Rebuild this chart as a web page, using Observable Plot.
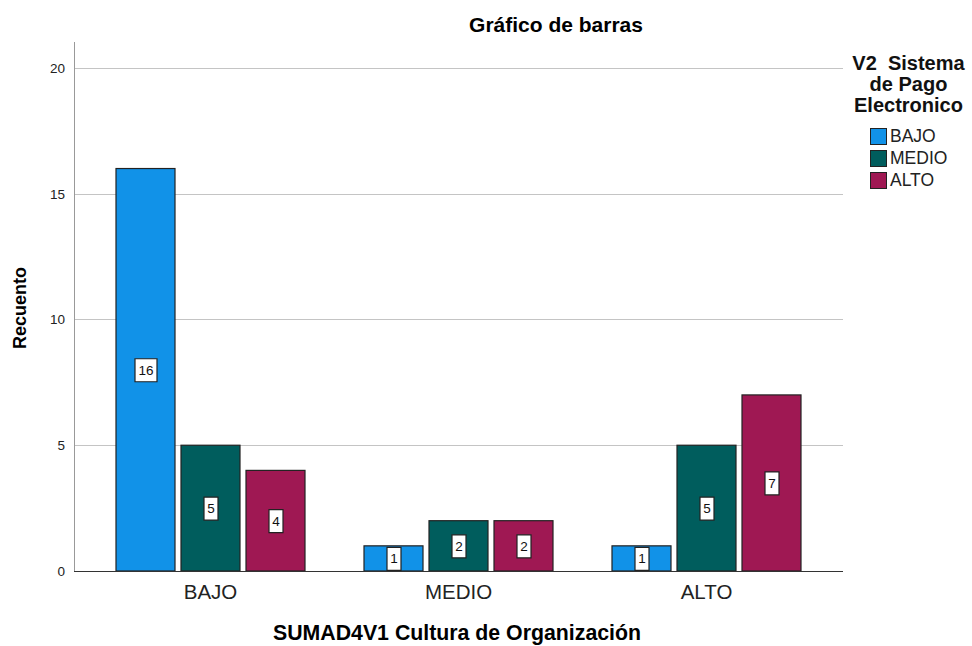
<!DOCTYPE html>
<html><head><meta charset="utf-8">
<script src="https://cdn.jsdelivr.net/npm/d3@7"></script>
<script src="https://cdn.jsdelivr.net/npm/@observablehq/plot@0.6"></script>
<style>
body{margin:0;background:#fff;font-family:"Liberation Sans",Arial,sans-serif;}
#wrap{position:relative;width:972px;height:646px;overflow:hidden;}
.lab{position:absolute;white-space:nowrap;color:#000;font-weight:bold;}
#title{left:556px;top:25px;transform:translate(-50%,-50%);font-size:21px;}
#xlab{left:457px;top:633px;transform:translate(-50%,-50%);font-size:21.3px;}
#ylab{left:20px;top:308px;transform:translate(-50%,-50%) rotate(-90deg);font-size:18px;}
#legend{position:absolute;left:845px;top:53px;width:127px;}
#legtitle{font-weight:bold;font-size:20px;line-height:21px;text-align:center;color:#111;}
.item{display:flex;align-items:center;height:22px;font-size:17.5px;color:#222;margin-left:25px;}
.sw{width:15px;height:15px;border:1px solid #222;margin-right:3px;}
</style></head><body>
<div id="wrap"></div>
<script>
const groups = ["BAJO", "MEDIO", "ALTO"];
const series = ["BAJO", "MEDIO", "ALTO"];
const valuesBajo = [16, 1, 1];
const valuesMedio = [5, 2, 5];
const valuesAlto = [4, 2, 7];
const colors = ["#1192e8", "#005d5d", "#9f1853"];
const yTicks = [0, 5, 10, 15, 20];
const titleText = "Gráfico de barras";
const xLabel = "SUMAD4V1 Cultura de Organización";
const yLabel = "Recuento";
const legendTitle = ["V2  Sistema", "de Pago", "Electronico"];

const seriesValues = [valuesBajo, valuesMedio, valuesAlto];
const data = [];
groups.forEach((g, i) => series.forEach((s, j) => data.push({group: g, series: s, value: seriesValues[j][i]})));

function boxSymbol(w, h) {
  return {draw(ctx) { ctx.rect(-w / 2, -h / 2, w, h); }};
}
const mid = d => d.value / 2;
const ext = -41.5; // extend lines from each facet across the gaps

const chart = Plot.plot({
  width: 972, height: 646,
  marginLeft: 73, marginRight: 130, marginTop: 42, marginBottom: 75,
  style: {fontFamily: "Liberation Sans, Arial, sans-serif", background: "#fff", overflow: "visible"},
  fx: {domain: groups, paddingInner: 0.234, paddingOuter: 0.167, label: null},
  x: {domain: series, paddingInner: 0.1, paddingOuter: 0, axis: null},
  y: {domain: [0, 21.03], axis: null},
  color: {domain: series, range: colors},
  marks: [
    Plot.ruleY(yTicks.filter(t => t > 0), {stroke: "#c4c4c4", strokeWidth: 1, shapeRendering: "crispEdges", insetLeft: ext, insetRight: ext}),
    Plot.axisY(yTicks, {tickSize: 0, tickPadding: 9 - ext, fontSize: 13.5, fill: "#222", label: null}),
    Plot.frame({anchor: "left", facetAnchor: "left", insetLeft: ext, stroke: "#999", shapeRendering: "crispEdges"}),
    Plot.axisFx({anchor: "bottom", tickSize: 0, tickPadding: 13, fontSize: 20.5, fill: "#222", label: null}),
    Plot.barY(data, {fx: "group", x: "series", y: "value", fill: "series", stroke: "#222", strokeWidth: 1.2}),
    Plot.ruleY([0], {stroke: "#333", strokeWidth: 1, shapeRendering: "crispEdges", insetLeft: ext, insetRight: ext}),
    Plot.dot(data.filter(d => d.value >= 10), {fx: "group", x: "series", y: mid, symbol: boxSymbol(22, 23), fill: "white", stroke: "#222", strokeWidth: 1.2}),
    Plot.dot(data.filter(d => d.value < 10), {fx: "group", x: "series", y: mid, symbol: boxSymbol(14, 23), fill: "white", stroke: "#222", strokeWidth: 1.2}),
    Plot.text(data, {fx: "group", x: "series", y: mid, text: "value", fontSize: 13.5, fill: "#111"})
  ]
});

const wrap = document.getElementById("wrap");
wrap.appendChild(chart);
const mk = (id, txt) => { const d = document.createElement("div"); d.id = id; d.className = "lab"; d.textContent = txt; wrap.appendChild(d); };
mk("title", titleText);
mk("xlab", xLabel);
mk("ylab", yLabel);
const leg = document.createElement("div"); leg.id = "legend";
const lt = document.createElement("div"); lt.id = "legtitle"; lt.innerHTML = legendTitle.map(s => s.replace(/ /g, "&nbsp;")).join("<br>");
leg.appendChild(lt);
const sp = document.createElement("div"); sp.style.height = "9px"; leg.appendChild(sp);
series.forEach((s, i) => {
  const it = document.createElement("div"); it.className = "item";
  const sw = document.createElement("div"); sw.className = "sw"; sw.style.background = colors[i];
  it.appendChild(sw); it.appendChild(document.createTextNode(s)); leg.appendChild(it);
});
wrap.appendChild(leg);
</script></body></html>
